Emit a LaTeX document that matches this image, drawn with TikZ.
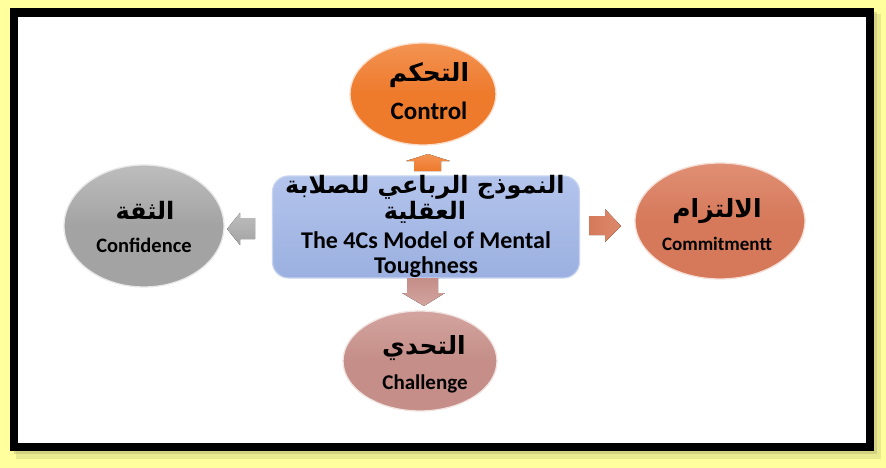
\documentclass[tikz,border=0pt]{standalone}
\usepackage{fontspec}
\setmainfont{Carlito}
\newfontfamily\arabicfont[Script=Arabic]{DejaVu Sans}
\TeXXeTstate=1
\usetikzlibrary{shapes.geometric}

\definecolor{glow}{HTML}{FFFF9E}
\definecolor{glowshade}{HTML}{B8B870}
\definecolor{ctrl}{HTML}{EE7A2C}
\definecolor{ctrlhi}{HTML}{F39352}
\definecolor{commit}{HTML}{D6795A}
\definecolor{commithi}{HTML}{E08F74}
\definecolor{conf}{HTML}{A3A3A3}
\definecolor{confhi}{HTML}{BDBDBD}
\definecolor{chal}{HTML}{C58E88}
\definecolor{chalhi}{HTML}{D3A49F}
\definecolor{core}{HTML}{9BB0E0}
\definecolor{corehi}{HTML}{B3C4EC}
\definecolor{coreedge}{HTML}{C7D4F0}

\tikzset{
  bubble/.style={ellipse, inner sep=0pt, draw=white!75!#1, line width=1.3pt,
    top color=#1hi, bottom color=#1, middle color=#1},
  artitle/.style={font=\arabicfont\bfseries\fontsize{#1}{#1}\selectfont, inner sep=0pt},
  entitle/.style={font=\bfseries\fontsize{#1}{#1}\selectfont, inner sep=0pt},
}

\begin{document}
\begin{tikzpicture}[x=1pt,y=-1pt]
  \useasboundingbox (0,0) rectangle (886,468);
  % glowing page behind the frame
  \fill[glow] (0,0) rectangle (886,468);
  \fill[glowshade, opacity=0.3] (16,14) rectangle (881,459);
  \fill[glowshade, opacity=0.45] (14,12) rectangle (877,454);
  % black frame
  \fill[black] (10,8) rectangle (874,451);
  \fill[white] (18,17) rectangle (866,443);

  % central box
  \node[draw=coreedge, line width=1.2pt, rounded corners=16pt,
        top color=corehi, bottom color=core,
        minimum width=307pt, minimum height=102pt] (core) at (426,227) {};
  \node[artitle=24] (coreAr1) at (425,187) {\beginR النموذج الرباعي للصلابة\endR};
  \node[artitle=24] (coreAr2) at (425,212) {\beginR العقلية\endR};
  \node[entitle=24] (coreEn1) at (426,240) {The 4Cs Model of Mental};
  \node[entitle=24] (coreEn2) at (426,267) {Toughness};

  % the four components
  \node[bubble=ctrl, minimum width=146pt, minimum height=102pt] (control) at (423,94) {};
  \node[artitle=25] (controlAr) at (429,75) {\beginR التحكم\endR};
  \node[entitle=25] (controlEn) at (429,111) {Control};

  \node[bubble=commit, minimum width=170pt, minimum height=116pt] (commitment) at (720,221) {};
  \node[artitle=25] (commitAr) at (717,211) {\beginR الالتزام\endR};
  \node[entitle=19] (commitEn) at (717,244) {Commitmentt};

  \node[bubble=conf, minimum width=160pt, minimum height=122pt] (confidence) at (144,226) {};
  \node[artitle=24] (confAr) at (145,210) {\beginR الثقة\endR};
  \node[entitle=20.5] (confEn) at (144,245) {Confidence};

  \node[bubble=chal, minimum width=154pt, minimum height=100pt] (challenge) at (420,361) {};
  \node[artitle=25] (chalAr) at (424,348) {\beginR التحدي\endR};
  \node[entitle=21] (chalEn) at (425,384) {Challenge};

  % block arrows pointing out from the central box
  \coordinate (upTip) at (428,154);
  \fill[top color=ctrlhi, bottom color=ctrl]
    (upTip) -- ++(22,7) -- ++(-9,0) -- ++(0,10) -- ++(-27,0) -- ++(0,-10) -- ++(-8,0) -- cycle;

  \coordinate (rightTip) at (621,226);
  \fill[left color=commit, right color=commithi!70!commit]
    (rightTip) -- ++(-16,16) -- ++(0,-7) -- ++(-16,0) -- ++(0,-19) -- ++(16,0) -- ++(0,-7) -- cycle;

  \coordinate (leftTip) at (227,229);
  \fill[top color=confhi, bottom color=conf]
    (leftTip) -- ++(13,-16) -- ++(0,5) -- ++(15,0) -- ++(0,21) -- ++(-15,0) -- ++(0,6) -- cycle;

  \coordinate (downTip) at (424,306);
  \fill[top color=chal, bottom color=chalhi]
    (downTip) -- ++(21,-13) -- ++(-7,0) -- ++(0,-15) -- ++(-31,0) -- ++(0,15) -- ++(-5,0) -- cycle;
\end{tikzpicture}
\end{document}
